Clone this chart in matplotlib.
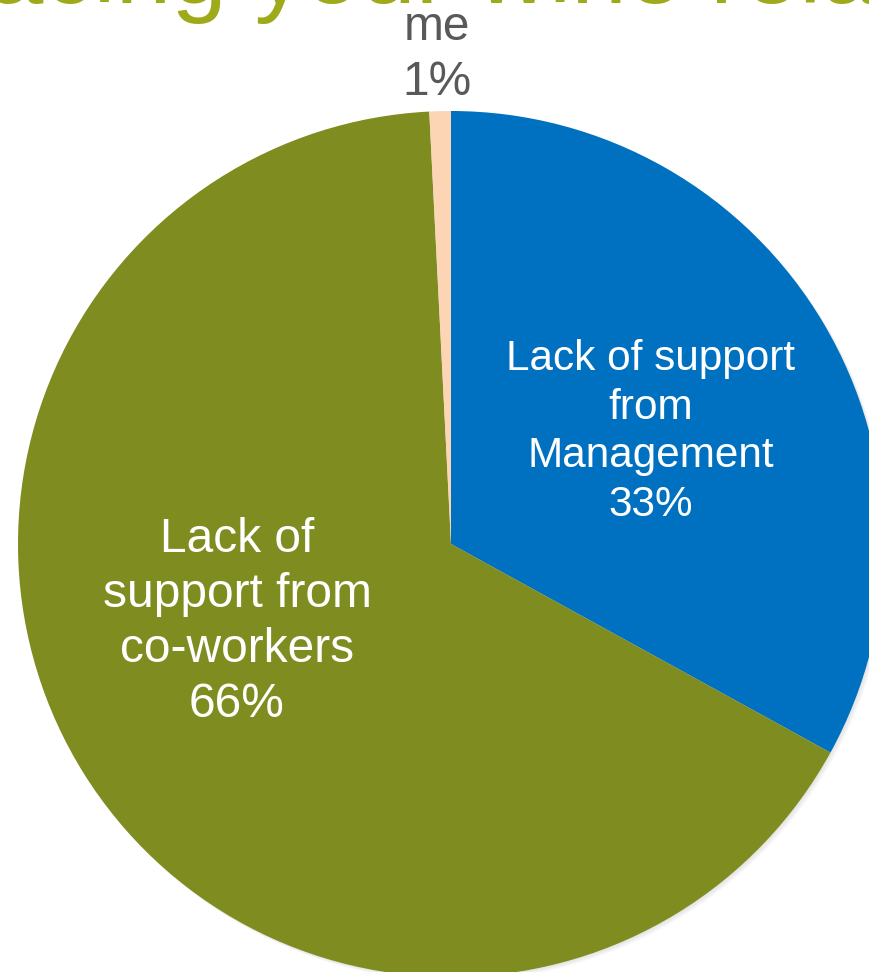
import numpy as np
import matplotlib.pyplot as plt
from matplotlib.patches import Circle

# --------------------
# Data
# --------------------
labels = ["Lack of support\nfrom\nManagement", "Lack of\nsupport from\nco-workers", "me"]
pct_labels = ["33%", "66%", "1%"]
values = [33.0, 66.2, 0.8]
colors = ["#0070C0", "#7F8C1F", "#FCD5B4"]
title = "facing your wine related"

# --------------------
# Layout (pixel coordinates, y measured from bottom)
# --------------------
W, H = 869, 972
cx, cy = 451, H - 544
R = 433

plt.rcParams["font.family"] = ["Liberation Sans", "DejaVu Sans"]

fig = plt.figure(figsize=(W / 100, H / 100), dpi=100)
ax = fig.add_axes([0, 0, 1, 1])

# soft shadow behind the pie
for i in range(4):
    ax.add_patch(Circle((cx + 1 + i, cy - 1 - i), R, color="#808080", alpha=0.05, lw=0, zorder=0))

ax.pie(values, colors=colors, startangle=90, counterclock=False,
       center=(cx, cy), radius=R, wedgeprops=dict(linewidth=0), frame=False)

ax.set_xlim(0, W)
ax.set_ylim(0, H)
ax.set_aspect("equal")
ax.axis("off")

# slice labels
label_pos = [(651, H - 432), (237, H - 622), (437, H - 55)]
label_size = [30.4, 34.5, 34.5]
label_color = ["white", "white", "#595959"]
for lab, pct, (x, y), s, c in zip(labels, pct_labels, label_pos, label_size, label_color):
    ax.text(x, y, lab + "\n" + pct, ha="center", va="center", fontsize=s,
            color=c, linespacing=1.28, zorder=5)

# clipped title at the top
ax.text(-40, H - 3.5, title, ha="left", va="baseline", fontsize=72,
        color="#9FAA1A", zorder=6)

plt.savefig("out.png", dpi=100)
